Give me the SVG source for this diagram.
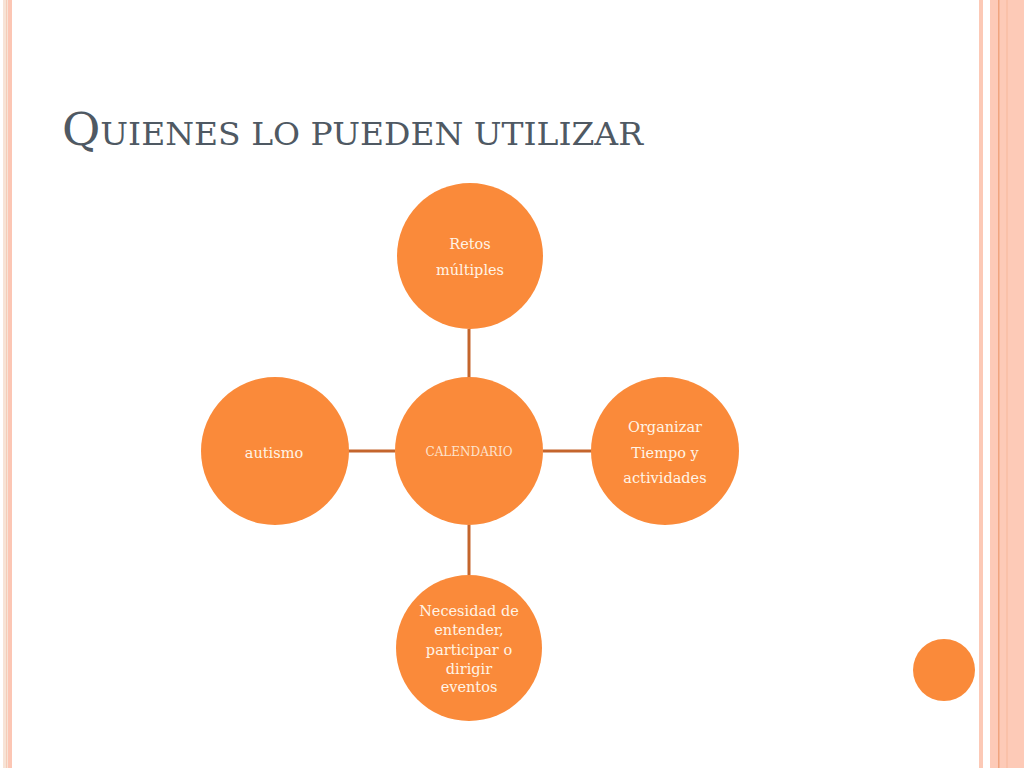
<svg xmlns="http://www.w3.org/2000/svg" width="1024" height="768" viewBox="0 0 1024 768">
<style>
.node{fill:#fa8a3a;}
.lbl{font-family:"DejaVu Serif","Liberation Serif",serif;font-size:14.5px;fill:#fff4e6;text-anchor:middle;}
.small{font-size:12px;fill:#fde2cc;}
.conn{stroke:#c4652c;stroke-width:3;fill:none;}
.title{font-family:"DejaVu Serif","Liberation Serif",serif;fill:#4f5963;}
</style>
<rect width="1024" height="768" fill="#ffffff"/>
<g id="border-left">
<rect x="3" y="0" width="5" height="768" fill="#f7e3d6"/>
<rect x="6" y="0" width="1" height="768" fill="#f4cdb8"/>
<rect x="8" y="0" width="4" height="768" fill="#fcc6b4"/>
</g>
<g id="border-right">
<rect x="979" y="0" width="4" height="768" fill="#fcc9b6"/>
<rect x="990" y="0" width="34" height="768" fill="#fdcab7"/>
<rect x="998" y="0" width="1.5" height="768" fill="#f0a47e"/>
<rect x="1006.5" y="0" width="1" height="768" fill="#f8b89c"/>
</g>
<text class="title" x="62" y="145" textLength="581" lengthAdjust="spacingAndGlyphs"><tspan font-size="44">Q</tspan><tspan font-size="31">UIENES LO PUEDEN UTILIZAR</tspan></text>
<g id="connectors">
<line class="conn" x1="469" y1="329" x2="469" y2="378"/>
<line class="conn" x1="348" y1="451" x2="395" y2="451"/>
<line class="conn" x1="543" y1="451" x2="592" y2="451"/>
<line class="conn" x1="469" y1="525" x2="469" y2="575"/>
</g>
<g id="node-calendario">
<circle class="node" cx="469" cy="451" r="74"/>
<text class="lbl small" x="469" y="456">CALENDARIO</text>
</g>
<g id="node-retos">
<circle class="node" cx="470" cy="256" r="73"/>
<text class="lbl" x="470" y="249">Retos</text>
<text class="lbl" x="470" y="275">múltiples</text>
</g>
<g id="node-organizar">
<circle class="node" cx="665" cy="451" r="74"/>
<text class="lbl" x="665" y="432">Organizar</text>
<text class="lbl" x="665" y="458">Tiempo y</text>
<text class="lbl" x="665" y="483">actividades</text>
</g>
<g id="node-autismo">
<circle class="node" cx="275" cy="451" r="74"/>
<text class="lbl" x="274" y="458">autismo</text>
</g>
<g id="node-necesidad">
<circle class="node" cx="469" cy="648" r="73"/>
<text class="lbl" x="469" y="616">Necesidad de</text>
<text class="lbl" x="469" y="635">entender,</text>
<text class="lbl" x="469" y="655">participar o</text>
<text class="lbl" x="469" y="674">dirigir</text>
<text class="lbl" x="469" y="692">eventos</text>
</g>
<g id="decor-dot">
<circle class="node" cx="944" cy="670" r="31"/>
</g>
</svg>
